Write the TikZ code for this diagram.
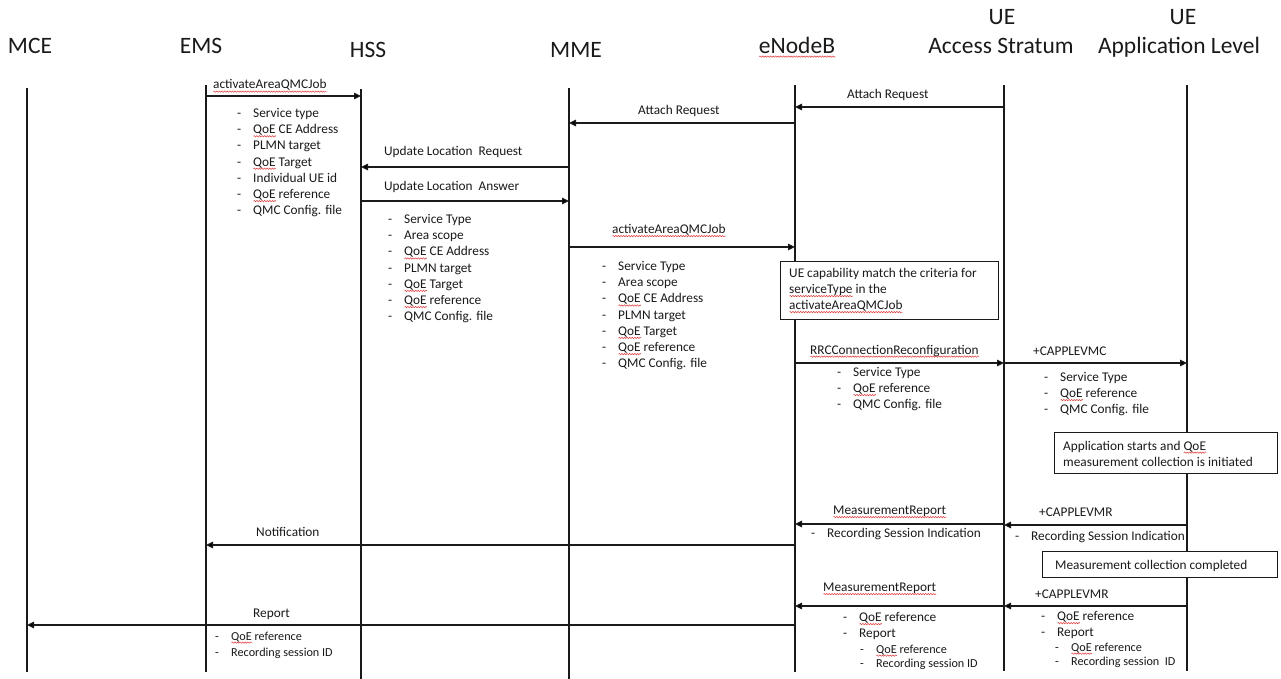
\documentclass[tikz,border=0pt]{standalone}
\usepackage{fontspec}
\setmainfont{Carlito}
\usetikzlibrary{arrows.meta,decorations.pathmorphing}
\definecolor{ink}{HTML}{1A1A1A}
\definecolor{sqc}{HTML}{E23A3A}
\newsavebox\sqbox
\newcommand\sq[1]{\sbox\sqbox{#1}\rlap{\tikz[baseline=0pt,x=1pt,y=1pt]{\draw[sqc,line width=0.5pt,decorate,decoration={snake,segment length=2.6pt,amplitude=0.7pt}] (0,-2.6) -- (\wd\sqbox,-2.6);}}\usebox\sqbox}
\newcommand\dd{\makebox[16pt][l]{-}}
\begin{document}
\begin{tikzpicture}[x=1pt,y=-1pt,
  life/.style={line width=1.1pt, draw=ink},
  msg/.style={line width=1.1pt, draw=ink, -{Triangle[length=7pt,width=6.5pt]}},
  lbl/.style={anchor=base west, inner sep=0pt, text=ink, font=\fontsize{13.3}{16}\selectfont},
  sml/.style={anchor=base west, inner sep=0pt, text=ink, font=\fontsize{12.2}{14}\selectfont},
  hdr/.style={anchor=base, inner sep=0pt, text=ink, font=\fontsize{23.5}{28}\selectfont},
  note/.style={draw=ink, line width=0.9pt, fill=white, anchor=north west, inner sep=0pt}]
\useasboundingbox (0,0) rectangle (1281,679);
\fill[white] (0,0) rectangle (1281,679);

% headers
\node[hdr] (hMCE) at (30,54) {MCE};
\node[hdr] (hEMS) at (201,54) {EMS};
\node[hdr] (hHSS) at (368,58) {HSS};
\node[hdr] (hMME) at (576,58) {MME};
\node[hdr] (hENB) at (797,54) {\sq{eNodeB}};
\node[hdr] (hUE1) at (1002,25) {UE};
\node[hdr] (hAS) at (1001,54) {Access Stratum};
\node[hdr] (hUE2) at (1183,25) {UE};
\node[hdr] (hAPP) at (1179,54) {Application Level};

% lifelines
\coordinate (mce) at (27,88);
\coordinate (ems) at (206,85);
\coordinate (hss) at (361,89);
\coordinate (mme) at (569,88);
\coordinate (enb) at (795,85);
\coordinate (uas) at (1004,85);
\coordinate (app) at (1187,85);
\draw[life] (mce) -- (mce |- 0,672);
\draw[life] (ems) -- (ems |- 0,672);
\draw[life] (hss) -- (hss |- 0,679);
\draw[life] (mme) -- (mme |- 0,679);
\draw[life] (enb) -- (enb |- 0,672);
\draw[life] (uas) -- (uas |- 0,671);
\draw[life] (app) -- (app |- 0,671);

% messages
\draw[msg] (ems |- 0,96) -- (hss |- 0,96);
\node[lbl] (m1) at (213,89) {\sq{activateAreaQMCJob}};
\foreach \t [count=\i] in {Service type, \sq{QoE} CE Address, PLMN target, \sq{QoE} Target, Individual UE id, \sq{QoE} reference, QMC Config. file}
  \node[lbl] (la\i) at (237,117.5+16.2*\i-16.2) {\dd\t};

\draw[msg] (uas |- 0,107) -- (enb |- 0,107);
\node[lbl] (m2) at (847,98.5) {Attach Request};
\draw[msg] (enb |- 0,123) -- (mme |- 0,123);
\node[lbl] (m3) at (638,114.5) {Attach Request};

\draw[msg] (mme |- 0,167) -- (hss |- 0,167);
\node[lbl] (m4) at (384,155.5) {Update Location\ \ Request};
\draw[msg] (hss |- 0,201) -- (mme |- 0,201);
\node[lbl] (m5) at (384,190.5) {Update Location\ \ Answer};
\foreach \t [count=\i] in {Service Type, Area scope, \sq{QoE} CE Address, PLMN target, \sq{QoE} Target, \sq{QoE} reference, QMC Config. file}
  \node[lbl] (lb\i) at (388,223.5+16.2*\i-16.2) {\dd\t};

\draw[msg] (mme |- 0,247) -- (enb |- 0,247);
\node[lbl] (m6) at (612,233.5) {\sq{activateAreaQMCJob}};
\foreach \t [count=\i] in {Service Type, Area scope, \sq{QoE} CE Address, PLMN target, \sq{QoE} Target, \sq{QoE} reference, QMC Config. file}
  \node[lbl] (lc\i) at (602,270.5+16.2*\i-16.2) {\dd\t};

\node[note, minimum width=218pt, minimum height=58pt] (b1) at (780,261) {};
\node[lbl] (b1a) at (789,277.5) {UE capability match the criteria for};
\node[lbl] (b1b) at (789,293.5) {\sq{serviceType} in the};
\node[lbl] (b1c) at (789,309.5) {\sq{activateAreaQMCJob}};

\draw[msg] (enb |- 0,363) -- (uas |- 0,363);
\node[lbl] (m7) at (810,354) {\sq{RRCConnectionReconfiguration}};
\foreach \t [count=\i] in {Service Type, \sq{QoE} reference, QMC Config. file}
  \node[lbl] (ld\i) at (837,376.5+16*\i-16) {\dd\t};

\draw[msg] (uas |- 0,363) -- (app |- 0,363);
\node[lbl] (m8) at (1033,355.5) {+CAPPLEVMC};
\foreach \t [count=\i] in {Service Type, \sq{QoE} reference, QMC Config. file}
  \node[lbl] (le\i) at (1044,381.5+16*\i-16) {\dd\t};

\node[note, minimum width=223pt, minimum height=41pt] (b2) at (1054,432) {};
\node[lbl] (b2a) at (1063,450) {Application starts and \sq{QoE}};
\node[lbl] (b2b) at (1063,466) {measurement collection is initiated};

\draw[msg] (uas |- 0,524) -- (enb |- 0,524);
\node[lbl] (m9) at (833,514.5) {\sq{MeasurementReport}};
\node[lbl] (lf1) at (811,537.5) {\dd Recording Session Indication};
\draw[msg] (app |- 0,525) -- (uas |- 0,525);
\node[lbl] (m10) at (1039,516.5) {+CAPPLEVMR};
\node[lbl] (lg1) at (1015,540.5) {\dd Recording Session Indication};

\draw[msg] (enb |- 0,545) -- (ems |- 0,545);
\node[lbl] (m11) at (256,536.5) {Notification};

\node[note, minimum width=235pt, minimum height=26pt] (b3) at (1042,551) {};
\node[lbl] (b3a) at (1055,569.5) {Measurement collection completed};

\draw[msg] (uas |- 0,606) -- (enb |- 0,606);
\node[lbl] (m12) at (823,591.5) {\sq{MeasurementReport}};
\draw[msg] (app |- 0,606) -- (uas |- 0,606);
\node[lbl] (m13) at (1035,598.5) {+CAPPLEVMR};

\draw[msg] (enb |- 0,625) -- (mce |- 0,625);
\node[lbl] (m14) at (253,617.5) {Report};
\node[sml] (lh1) at (215,640) {\dd\sq{QoE} reference};
\node[sml] (lh2) at (215,656) {\dd Recording session ID};

\node[lbl] (li1) at (843,621.5) {\dd\sq{QoE} reference};
\node[lbl] (li2) at (843,637.5) {\dd Report};
\node[sml] (li3) at (860,653) {\dd\sq{QoE} reference};
\node[sml] (li4) at (860,667) {\dd Recording session ID};

\node[lbl] (lj1) at (1041,620.5) {\dd\sq{QoE} reference};
\node[lbl] (lj2) at (1041,636.5) {\dd Report};
\node[sml] (lj3) at (1055,651) {\dd\sq{QoE} reference};
\node[sml] (lj4) at (1055,665) {\dd Recording session\ \ ID};
\end{tikzpicture}
\end{document}
